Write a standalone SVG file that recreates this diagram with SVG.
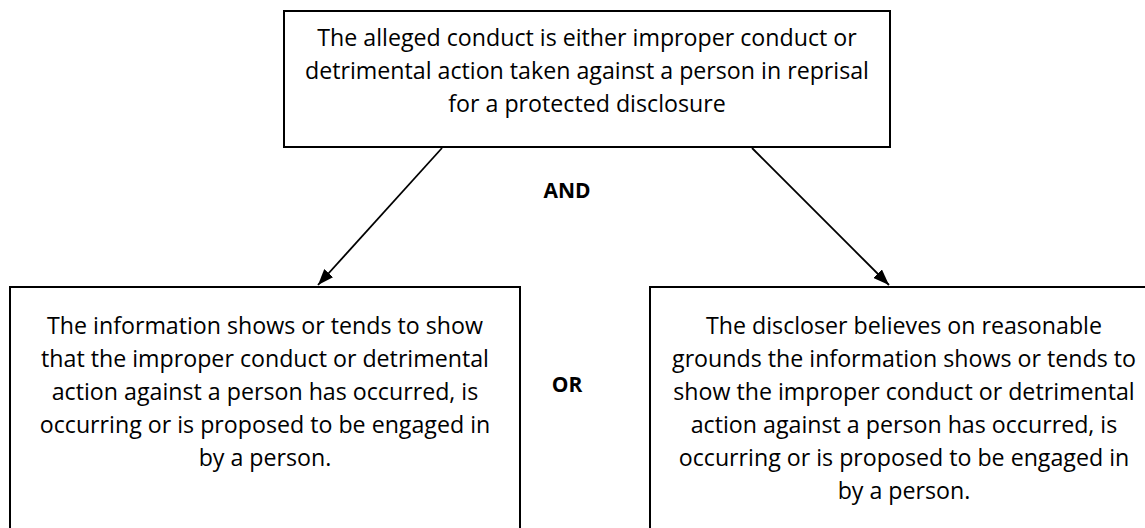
<svg xmlns="http://www.w3.org/2000/svg" width="1145" height="528" viewBox="0 0 1145 528">
<style>
.box{fill:#fff;stroke:#000;stroke-width:2}
.t{font-family:"Open Sans","Noto Sans",sans-serif;font-size:23.2px;fill:#000;text-anchor:middle}
.b{font-family:"Open Sans","Noto Sans",sans-serif;font-size:21px;font-weight:bold;fill:#000;text-anchor:middle}
.c{stroke:#000;stroke-width:1.8;fill:none}
</style>
<defs>
<marker id="arr" viewBox="0 0 16 12" refX="16" refY="6" markerWidth="16" markerHeight="12" markerUnits="userSpaceOnUse" orient="auto">
<path d="M0,0 L16,6 L0,12 Z" fill="#000"/>
</marker>
</defs>
<rect width="1145" height="528" fill="#fff"/>
<g id="top">
<rect class="box" x="284" y="11" width="606" height="136"/>
<text class="t" x="587" y="46">The alleged conduct is either improper conduct or</text>
<text class="t" x="587" y="79">detrimental action taken against a person in reprisal</text>
<text class="t" x="587" y="112">for a protected disclosure</text>
</g>
<g id="left">
<rect class="box" x="10" y="287" width="510" height="260"/>
<text class="t" x="265" y="334">The information shows or tends to show</text>
<text class="t" x="265" y="367">that the improper conduct or detrimental</text>
<text class="t" x="265" y="400">action against a person has occurred, is</text>
<text class="t" x="265" y="433">occurring or is proposed to be engaged in</text>
<text class="t" x="265" y="466">by a person.</text>
</g>
<g id="right">
<rect class="box" x="650" y="287" width="520" height="260"/>
<text class="t" x="904" y="334">The discloser believes on reasonable</text>
<text class="t" x="904" y="367">grounds the information shows or tends to</text>
<text class="t" x="904" y="400">show the improper conduct or detrimental</text>
<text class="t" x="904" y="433">action against a person has occurred, is</text>
<text class="t" x="904" y="466">occurring or is proposed to be engaged in</text>
<text class="t" x="904" y="499">by a person.</text>
</g>
<g id="and"><text class="b" x="567" y="198">AND</text></g>
<g id="or"><text class="b" x="567" y="392">OR</text></g>
<g id="connectors">
<line class="c" x1="442" y1="148" x2="318" y2="285" marker-end="url(#arr)"/>
<line class="c" x1="752" y1="148" x2="889" y2="285" marker-end="url(#arr)"/>
</g>
</svg>
